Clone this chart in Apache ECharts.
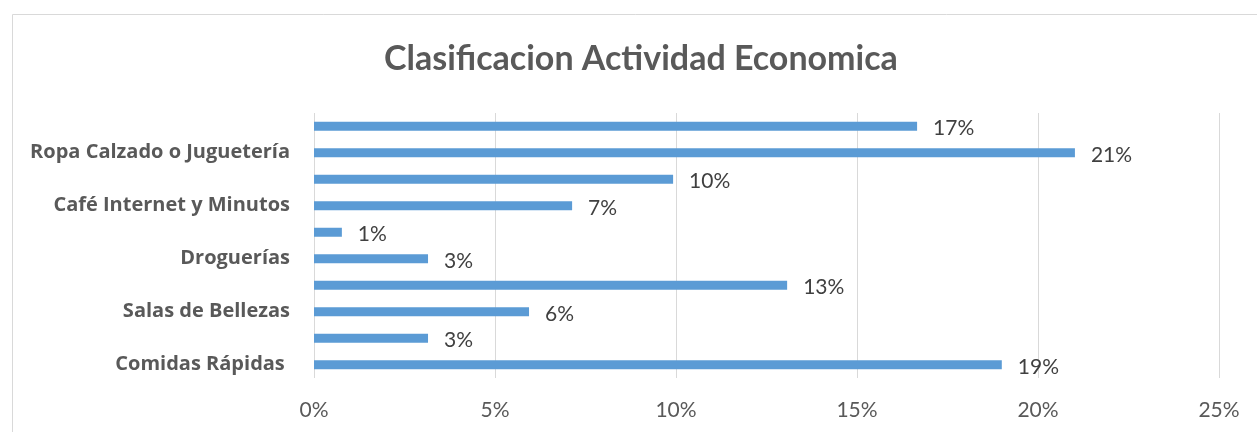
<!DOCTYPE html>
<html>
<head>
<meta charset="utf-8">
<script src="https://cdn.jsdelivr.net/npm/echarts@6/dist/echarts.min.js"></script>
<style>
  html, body { margin: 0; padding: 0; background: #fff; }
  #chart { width: 1257px; height: 432px; }
</style>
</head>
<body>
<div id="chart"></div>
<script>
// categories bottom to top; only every other label is shown, like in the original
var categories = [
  'Comidas Rápidas ', 'Otros 1', 'Salas de Bellezas', 'Otros 2', 'Droguerías',
  'Otros 3', 'Café Internet y Minutos', 'Otros 4', 'Ropa Calzado o Juguetería', 'Otros 5'
]
var values = [19.0, 3.15, 5.94, 13.07, 3.15, 0.77, 7.13, 9.92, 21.02, 16.66]
var xTicks = [0, 5, 10, 15, 20, 25]

var font = 'Lato'
var chart = echarts.init(document.getElementById('chart'))

chart.setOption({
  animation: false,
  graphic: [{
    type: 'rect',
    shape: { x: 12.5, y: 14.5, width: 1300, height: 500 },
    style: { fill: 'none', stroke: '#d9d9d9', lineWidth: 1 },
    silent: true
  }],
  title: {
    text: 'Clasificacion Actividad Economica',
    left: 379,
    top: 37,
    textStyle: { fontFamily: font, fontSize: 34, fontWeight: 'bold', color: '#595959' }
  },
  grid: { left: 314, right: 38, top: 113, bottom: 54, containLabel: false },
  xAxis: {
    type: 'value',
    min: xTicks[0],
    max: xTicks[xTicks.length - 1],
    interval: 5,
    axisLine: { show: false },
    axisTick: { show: false },
    splitLine: { lineStyle: { color: '#d9d9d9', width: 1 } },
    axisLabel: {
      formatter: '{value}%',
      margin: 22,
      fontFamily: font, fontSize: 21, color: '#595959'
    }
  },
  yAxis: {
    type: 'category',
    data: categories,
    axisLine: { show: false },
    axisTick: { show: false },
    axisLabel: {
      interval: 1,
      margin: 24,
      fontFamily: 'Open Sans', fontSize: 20, fontWeight: 'bold', color: '#595959'
    }
  },
  series: [{
    type: 'bar',
    data: values,
    barWidth: 9,
    itemStyle: { color: '#5b9bd5' },
    label: {
      show: true,
      position: 'right',
      distance: 16,
      offset: [0, 2],
      formatter: function (p) { return Math.round(p.value) + '%' },
      fontFamily: font, fontSize: 21, color: '#404040'
    }
  }]
})
</script>
</body>
</html>
